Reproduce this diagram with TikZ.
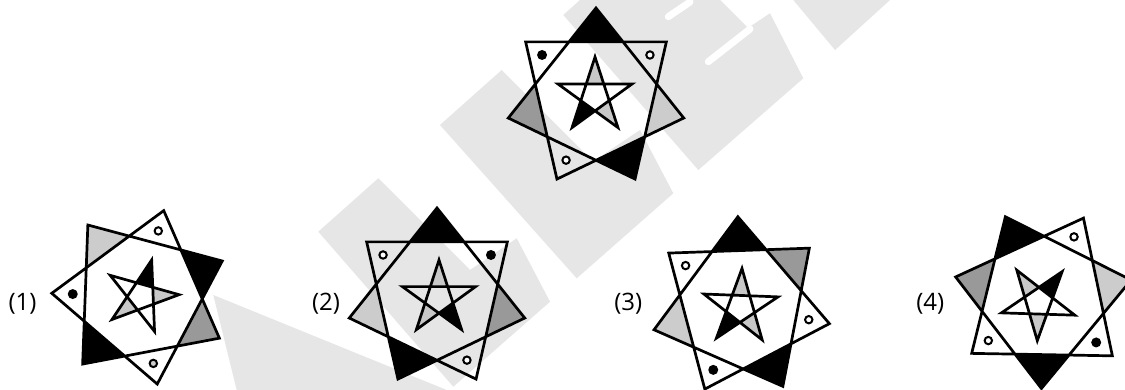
\documentclass[tikz,border=0pt]{standalone}
\usepackage{fontspec}
\setmainfont{Open Sans}
\usetikzlibrary{calc}
\definecolor{lg}{RGB}{204,204,204}
\definecolor{mg}{RGB}{153,153,153}
\definecolor{pg}{RGB}{200,200,200}
\definecolor{wm}{RGB}{230,230,230}
\tikzset{
  outl/.style={line width=2.7pt, line join=miter, draw=black},
  lab/.style={font=\fontsize{24}{26}\selectfont, inner sep=0pt, anchor=center},
  wmark/.style={fill=wm, draw=none},
  wstripe/.style={draw=white, line width=7pt, line cap=round},
}
% heptagram: prefix, cx, cy, theta0, R
\newcommand\hept[5]{%
  \coordinate (#1c) at (#2,#3);
  \foreach \k in {0,...,6}{
    \coordinate (#1v\k) at ({#2+#5*sin(#4+\k*360/7)},{#3-#5*cos(#4+\k*360/7)});
    \coordinate (#1ia\k) at ({#2+0.69202*#5*sin(#4+\k*360/7+180/7)},{#3-0.69202*#5*cos(#4+\k*360/7+180/7)});
    \coordinate (#1ib\k) at ({#2+0.69202*#5*sin(#4+\k*360/7-180/7)},{#3-0.69202*#5*cos(#4+\k*360/7-180/7)});
  }
}
% pentagram: prefix, cx, cy, phi0, r
\newcommand\pent[5]{%
  \coordinate (#1pc) at (#2,#3);
  \foreach \k in {0,...,4}{
    \coordinate (#1p\k) at ({#2+#5*sin(#4+\k*72)},{#3-#5*cos(#4+\k*72)});
    \coordinate (#1qa\k) at ({#2+0.381966*#5*sin(#4+\k*72+36)},{#3-0.381966*#5*cos(#4+\k*72+36)});
    \coordinate (#1qb\k) at ({#2+0.381966*#5*sin(#4+\k*72-36)},{#3-0.381966*#5*cos(#4+\k*72-36)});
  }
}
\newcommand\htip[3]{\fill[#3] (#1v#2) -- (#1ia#2) -- (#1ib#2) -- cycle;}
\newcommand\ptip[3]{\fill[#3] (#1p#2) -- (#1qa#2) -- (#1qb#2) -- cycle;}
\newcommand\houtline[1]{\draw[outl] (#1v0)--(#1v2)--(#1v4)--(#1v6)--(#1v1)--(#1v3)--(#1v5)--cycle;}
\newcommand\poutline[1]{\draw[outl] (#1p0)--(#1p2)--(#1p4)--(#1p1)--(#1p3)--cycle;}
\newcommand\bdot[2]{\fill[black] ($(#1v#2)!21pt!(#1c)$) circle[radius=5pt];}
\newcommand\wdot[2]{\draw[line width=2pt,fill=white] ($(#1v#2)!21pt!(#1c)$) circle[radius=3.7pt];}
\newcommand\gdot[2]{\draw[line width=2pt,fill=lg] ($(#1v#2)!21pt!(#1c)$) circle[radius=3.7pt];}

\begin{document}
\begin{tikzpicture}[x=1pt,y=-1pt]
\useasboundingbox (0,0) rectangle (1125,390);
\fill[white] (0,0) rectangle (1125,390);

% watermark (background logo tiles)
\fill[wmark] (213.3,295)--(446.7,390)--(236.7,390)--cycle;
\fill[wmark] (318.3,231.7)--(378.3,178.3)--(470,270)--(516.7,238.3)--(550,301.7)--(453.3,386.7)--cycle;
\fill[wmark] (440,125)--(501.7,70)--(593.2,161.5)--(640,130)--(673.3,193.3)--(576.7,278.3)--cycle;
\fill[wmark] (563.3,15)--(580,0)--(720,0)--(748,28)--(770,13.3)--(803.3,78.3)--(698.3,170)--cycle;
\fill[wmark] (793.3,0)--(835,50)--(890,0)--cycle;
\draw[wstripe] (668.3,16.7)--(690,2);
\draw[wstripe] (708.3,61.7)--(750,29);

% ---------- top figure ----------
\hept{T}{596}{98}{0}{90}
\htip{T}{0}{black}\htip{T}{2}{lg}\htip{T}{3}{black}\htip{T}{5}{mg}
\houtline{T}
\wdot{T}{1}\wdot{T}{4}\bdot{T}{6}
\pent{T}{595}{96}{0}{39}
\ptip{T}{0}{pg}\ptip{T}{2}{pg}\ptip{T}{3}{black}
\poutline{T}

% ---------- (1) ----------
\hept{A}{140.7}{296.6}{15}{89}
\htip{A}{1}{black}\htip{A}{2}{mg}\htip{A}{4}{black}\htip{A}{6}{lg}
\houtline{A}
\wdot{A}{0}\gdot{A}{3}\bdot{A}{5}
\pent{A}{141.5}{296.2}{15.7}{37.6}
\ptip{A}{0}{black}\ptip{A}{1}{pg}\ptip{A}{3}{pg}
\poutline{A}
\node[lab] (l1) at (22.5,304) {(1)};

% ---------- (2) ----------
\hept{B}{437}{298}{0}{90}
\htip{B}{0}{black}\htip{B}{2}{mg}\htip{B}{4}{black}\htip{B}{5}{lg}
\houtline{B}
\bdot{B}{1}\wdot{B}{3}\wdot{B}{6}
\pent{B}{439}{298.5}{0}{38.5}
\ptip{B}{0}{pg}\ptip{B}{2}{black}\ptip{B}{3}{pg}
\poutline{B}
\node[lab] (l2) at (326,304) {(2)};

% ---------- (3) ----------
\hept{C}{741}{306.7}{-2}{90}
\htip{C}{0}{black}\htip{C}{1}{mg}\htip{C}{3}{black}\htip{C}{5}{lg}
\houtline{C}
\wdot{C}{2}\bdot{C}{4}\wdot{C}{6}
\pent{C}{740.5}{307.5}{2.2}{39}
\ptip{C}{0}{pg}\ptip{C}{2}{pg}\ptip{C}{3}{black}
\poutline{C}
\node[lab] (l3) at (628.3,304) {(3)};

% ---------- (4) ----------
\hept{D}{1043}{298.5}{181}{90}
\htip{D}{0}{black}\htip{D}{2}{mg}\htip{D}{3}{black}\htip{D}{5}{lg}
\houtline{D}
\wdot{D}{1}\wdot{D}{4}\bdot{D}{6}
\pent{D}{1038.5}{302.1}{181.8}{38.6}
\ptip{D}{0}{pg}\ptip{D}{2}{pg}\ptip{D}{3}{black}
\poutline{D}
\node[lab] (l4) at (930.3,304) {(4)};
\end{tikzpicture}
\end{document}
